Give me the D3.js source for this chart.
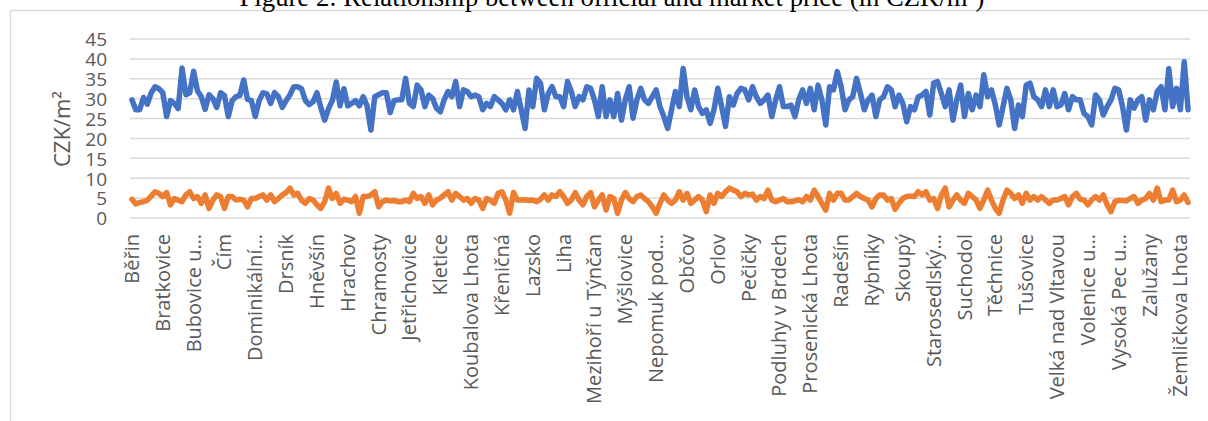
<!DOCTYPE html>
<html>
<head>
<meta charset="utf-8">
<script src="https://cdn.jsdelivr.net/npm/d3@7"></script>
<style>
  html, body { margin: 0; padding: 0; background: #ffffff; }
  svg { display: block; }
</style>
</head>
<body>
<svg id="chart" width="1208" height="421"></svg>
<script>
// Official price (blue) and market price (orange) per cadastral area, CZK/m²
const officialPrice = [
  29.7, 27.2, 27.2, 30.3, 28.6, 31.5, 33.0, 32.5, 31.5, 25.5,
  29.5, 28.8, 27.5, 37.7, 31.0, 31.5, 36.9, 32.0, 30.5, 27.3,
  31.0, 30.0, 27.8, 31.5, 30.8, 25.5, 29.5, 30.5, 30.8, 34.7,
  29.8, 29.5, 25.5, 29.5, 31.5, 31.2, 28.8, 31.5, 30.5, 27.8,
  29.5, 31.0, 33.0, 33.0, 32.5, 29.5, 28.5, 29.2, 31.5, 27.8,
  24.6, 27.5, 29.5, 34.2, 28.2, 32.5, 28.2, 28.8, 29.5, 28.2,
  30.5, 28.2, 22.1, 30.5, 31.0, 31.5, 31.5, 26.5, 29.5, 29.7,
  29.7, 35.1, 28.8, 28.0, 33.4, 32.2, 28.0, 30.9, 30.1, 27.6,
  26.7, 29.7, 31.8, 30.5, 34.3, 28.0, 32.2, 31.8, 30.5, 30.9,
  30.5, 27.2, 28.8, 28.0, 30.5, 29.7, 28.8, 27.2, 29.7, 27.2,
  31.8, 27.2, 22.5, 32.2, 28.0, 35.1, 33.9, 27.2, 31.3, 33.0,
  30.5, 30.5, 28.0, 34.3, 31.8, 28.0, 30.5, 29.7, 33.0, 32.6,
  29.7, 25.5, 33.0, 25.5, 29.7, 25.5, 31.3, 24.6, 29.7, 33.0,
  25.1, 29.7, 32.6, 29.7, 28.8, 30.5, 32.2, 28.0, 25.5, 22.5,
  27.2, 31.8, 28.0, 37.6, 30.5, 27.2, 32.2, 28.0, 26.3, 27.2,
  23.8, 27.2, 32.6, 28.0, 23.0, 30.5, 28.4, 31.3, 32.6, 32.2,
  29.7, 33.0, 30.5, 28.8, 29.7, 30.9, 25.5, 29.7, 33.0, 28.0,
  28.0, 28.4, 25.5, 29.7,
  32.2, 28.8, 32.6, 27.2, 33.4, 29.7, 23.4, 33.0, 32.2, 36.8,
  33.0, 27.2, 29.7, 30.5, 35.1, 31.3, 27.2, 29.7, 30.9, 25.5,
  29.7, 30.5, 33.0, 32.2, 28.0, 30.9, 28.8, 24.2, 28.0, 27.2,
  30.5, 30.9, 31.8, 25.9, 33.9, 34.3, 31.3, 28.0, 32.2, 24.6,
  29.7, 33.4, 25.5, 31.3, 27.2, 30.9, 28.0, 36.0, 30.5, 32.2,
  28.4, 23.4, 28.0, 32.6, 29.7, 22.5, 28.4, 25.5, 33.4, 33.9,
  30.5, 29.7, 28.0, 32.2, 28.0, 32.2, 28.0, 28.4, 31.3, 27.2,
  30.5, 29.7, 29.7, 26.3, 25.5, 23.4, 30.9, 29.7, 25.9, 28.0,
  29.7, 32.6, 32.2, 28.0, 22.1, 29.7, 27.6, 29.7, 30.5, 24.6,
  29.7, 27.2, 31.8, 33.0, 27.2, 37.6, 28.0, 32.6, 27.2, 39.3,
  27.2
];

const marketPrice = [
  4.7, 3.5, 3.9, 4.1, 4.5, 5.5, 6.6, 6.2, 5.4, 6.4,
  3.3, 4.9, 4.5, 4.1, 5.8, 6.6, 4.9, 5.4, 3.7, 5.8,
  2.4, 4.5, 5.8, 5.4, 2.4, 5.4, 5.4, 4.5, 4.7, 4.5,
  2.8, 4.9, 4.9, 5.4, 5.8, 4.5, 5.8, 4.1, 4.9, 5.8,
  6.4, 7.5, 5.8, 6.2, 4.5, 3.7, 4.9, 4.5, 3.3, 2.4,
  4.1, 7.5, 4.9, 6.2, 3.7, 4.7, 4.5, 4.1, 5.4, 1.2,
  5.4, 5.4, 5.8, 6.6, 2.8, 4.1, 4.5, 4.3, 4.4, 4.1,
  4.1, 4.5, 4.1, 6.2, 4.9, 5.4, 3.7, 5.8, 3.3, 4.5,
  5.0, 5.8, 6.6, 4.5, 6.2, 5.4, 4.5, 4.9, 3.7, 4.9,
  4.5, 2.4, 4.9, 4.5, 3.7, 6.2, 6.6, 4.5, 1.2, 6.4,
  4.5, 4.5, 4.6, 4.4, 4.5, 4.1, 4.7, 5.8, 4.5, 5.8,
  5.4, 6.6, 5.4, 3.7, 4.5, 6.4, 4.5, 3.3, 5.4, 6.4,
  2.8, 4.5, 5.8, 2.0, 5.4, 4.9, 1.2, 4.5, 6.4, 4.9,
  4.1, 5.4, 5.8, 4.9, 4.1, 2.8, 1.2, 3.7, 5.8, 4.5,
  3.7, 4.5, 6.6, 4.5, 6.2, 3.7, 4.5, 5.4, 4.5, 1.6,
  5.8, 3.7, 6.2, 5.4, 6.6, 7.5, 7.0, 6.6, 5.4, 6.2,
  5.8, 6.0, 4.5, 5.4, 4.9, 7.0, 4.5, 4.1, 4.5, 4.9,
  4.1, 4.1, 4.3, 4.6,
  4.1, 5.4, 4.5, 7.0, 5.4, 3.7, 2.0, 6.2, 4.5, 6.2,
  6.2, 4.5, 4.5, 5.4, 6.2, 5.4, 4.9, 4.5, 2.8, 4.9,
  5.8, 5.8, 4.5, 4.9, 2.2, 3.7, 4.9, 5.4, 5.5, 5.4,
  6.6, 5.8, 6.6, 4.5, 4.9, 2.4, 5.8, 7.5, 2.8, 4.5,
  5.8, 4.5, 3.7, 6.2, 5.4, 4.5, 2.4, 4.5, 7.0, 4.5,
  2.4, 1.2, 4.5, 7.0, 6.2, 4.9, 5.8, 3.7, 6.2, 4.5,
  5.4, 4.5, 5.4, 4.5, 3.7, 4.5, 4.5, 4.9, 5.4, 3.3,
  5.4, 6.2, 4.7, 4.5, 3.3, 4.5, 5.4, 4.5, 5.8, 3.3,
  1.6, 4.1, 4.4, 4.4, 4.3, 4.9, 5.4, 3.7, 4.5, 4.9,
  6.2, 4.5, 7.5, 4.1, 4.5, 4.5, 7.0, 4.1, 4.5, 5.8,
  3.9
];

// Category labels shown on the axis (every 8th cadastral area)
const axisLabels = [
  "Běřin", "Bratkovice", "Bubovice u…", "Čím", "Dominikální…", "Drsník",
  "Hněvšín", "Hrachov", "Chramosty", "Jetřichovice", "Kletice",
  "Koubalova Lhota", "Křeničná", "Lazsko", "Liha", "Mezihoří u Týnčan",
  "Mýšlovice", "Nepomuk pod…", "Občov", "Orlov", "Pečičky",
  "Podluhy v Brdech", "Prosenická Lhota", "Radešín", "Rybníky", "Skoupý",
  "Starosedlský…", "Suchodol", "Těchnice", "Tušovice", "Velká nad Vltavou",
  "Volenice u…", "Vysoká Pec u…", "Zalužany", "Žemličkova Lhota"
];
const labelStep = 8;
const yTicks = [0, 5, 10, 15, 20, 25, 30, 35, 40, 45];

const titleText = "Figure 2: Relationship between official and market price (in CZK/m²)";
const yTitle = "CZK/m²";

const svg = d3.select("#chart");
const plot = { left: 130, right: 1190, top: 39, bottom: 218 };
const fontUI = "'Open Sans', 'Noto Sans', sans-serif";

// chart frame
svg.append("rect")
  .attr("x", 10.5).attr("y", 10.5)
  .attr("width", 1220).attr("height", 430)
  .attr("fill", "none").attr("stroke", "#d9d9d9").attr("stroke-width", 1.5);

// caption above the frame
svg.append("text")
  .attr("x", 612).attr("y", 6)
  .attr("text-anchor", "middle")
  .attr("font-family", "'Liberation Serif', 'Times New Roman', serif")
  .attr("font-size", 26.7)
  .attr("fill", "#000")
  .text(titleText);

const N = officialPrice.length;
const x = d3.scaleBand()
  .domain(d3.range(N))
  .range([plot.left, plot.right]);
const cx = i => x(i) + x.bandwidth() / 2;

const y = d3.scaleLinear().domain([0, 45]).range([plot.bottom, plot.top]);

// horizontal gridlines
svg.append("g")
  .selectAll("line")
  .data(yTicks)
  .join("line")
  .attr("x1", plot.left).attr("x2", plot.right)
  .attr("y1", d => y(d)).attr("y2", d => y(d))
  .attr("stroke", "#d9d9d9").attr("stroke-width", 1.5);

// y axis labels
const yAxis = d3.axisLeft(y).tickValues(yTicks).tickSize(0).tickPadding(0);
svg.append("g")
  .attr("transform", `translate(${107},0)`)
  .call(yAxis)
  .call(g => g.select(".domain").remove())
  .call(g => g.selectAll("text")
    .attr("font-family", fontUI)
    .attr("font-size", 19)
    .attr("fill", "#595959")
    .attr("dy", "0.36em"));

// y axis title
svg.append("text")
  .attr("transform", `translate(70,129) rotate(-90)`)
  .attr("text-anchor", "middle")
  .attr("font-family", fontUI)
  .attr("font-size", 22)
  .attr("fill", "#595959")
  .text(yTitle);

// x axis labels, rotated
const labelIdx = axisLabels.map((_, k) => k * labelStep);
const xAxis = d3.axisBottom(x)
  .tickValues(labelIdx)
  .tickSize(0)
  .tickFormat(i => axisLabels[i / labelStep]);
svg.append("g")
  .attr("transform", `translate(0,${plot.bottom})`)
  .call(xAxis)
  .call(g => g.select(".domain").remove())
  .call(g => g.selectAll("text")
    .attr("font-family", fontUI)
    .attr("font-size", 20)
    .attr("fill", "#595959")
    .attr("text-anchor", "end")
    .attr("transform", "rotate(-90)")
    .attr("x", -16)
    .attr("y", 0)
    .attr("dy", "0.35em"));

// series lines
const line = d3.line()
  .x((d, i) => cx(i))
  .y(d => y(d))
  .curve(d3.curveLinear);

svg.append("path")
  .datum(marketPrice)
  .attr("d", line)
  .attr("fill", "none")
  .attr("stroke", "#ED7D31")
  .attr("stroke-width", 5.5)
  .attr("stroke-linejoin", "round")
  .attr("stroke-linecap", "round");

svg.append("path")
  .datum(officialPrice)
  .attr("d", line)
  .attr("fill", "none")
  .attr("stroke", "#4472C4")
  .attr("stroke-width", 5.5)
  .attr("stroke-linejoin", "round")
  .attr("stroke-linecap", "round");
</script>
</body>
</html>
